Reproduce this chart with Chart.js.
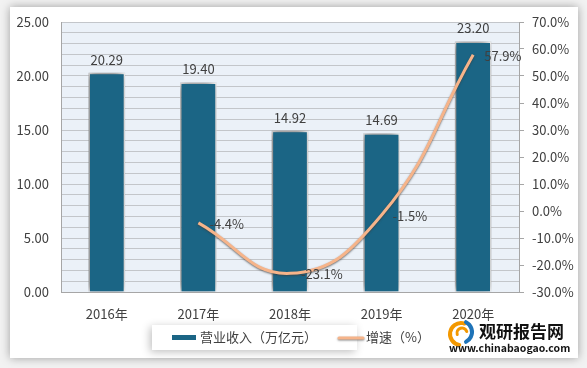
<!DOCTYPE html>
<html><head><meta charset="utf-8">
<script src="https://cdn.jsdelivr.net/npm/chart.js@4/dist/chart.umd.min.js"></script>
<style>html,body{margin:0;padding:0;background:#fff}#wrap{width:587px;height:368px}</style>
</head><body><div id="wrap"><canvas id="c" width="587" height="368"></canvas></div>
<script>
const categories = ['2016年','2017年','2018年','2019年','2020年'];
const revenue = [20.29, 19.40, 14.92, 14.69, 23.20];
const growth = [null, -4.4, -23.1, -1.5, 57.9];
const seriesNames = ['营业收入（万亿元）', '增速（%）'];
const leftRange = [0, 25];
const rightRange = [-30, 70];

const FONT = "'Noto Sans CJK SC', 'Noto Sans', sans-serif";
const BAR = '#1B6585';
const LINE = '#F6B48A';
const TXT = '#404040';
Chart.defaults.font.family = FONT;
Chart.defaults.font.size = 13;
Chart.defaults.color = TXT;

const framePlugin = {
  id: 'frame',
  beforeDraw(chart) {
    const ctx = chart.ctx, a = chart.chartArea;
    ctx.save();
    ctx.fillStyle = '#f2f2f2';
    ctx.fillRect(0, 0, chart.width, chart.height);
    ctx.shadowColor = 'rgba(0,0,0,0.35)';
    ctx.shadowBlur = 9;
    ctx.fillStyle = '#fff';
    ctx.fillRect(10, 7, 568, 351);
    ctx.shadowColor = 'transparent';
    ctx.fillStyle = '#EBF1F8';
    ctx.fillRect(a.left, a.top, a.right - a.left, a.bottom - a.top);
    ctx.shadowColor = 'rgba(0,0,0,0.25)';
    ctx.shadowBlur = 8;
    ctx.shadowOffsetX = -2;
    ctx.shadowOffsetY = 2;
    ctx.fillStyle = '#fff';
    ctx.fillRect(152, 325, 205, 25);
    ctx.restore();
  }
};

const shadowPlugin = {
  id: 'dsShadow',
  beforeDatasetDraw(chart, args) {
    const ctx = chart.ctx;
    ctx.save();
    if (args.index === 0) {
      ctx.shadowColor = 'rgba(0,0,0,0.65)';
      ctx.shadowBlur = 9;
      ctx.shadowOffsetX = -2;
      ctx.shadowOffsetY = -1;
    } else {
      ctx.shadowColor = 'rgba(60,60,60,0.7)';
      ctx.shadowBlur = 2;
      ctx.shadowOffsetX = 0;
      ctx.shadowOffsetY = 1;
    }
  },
  afterDatasetDraw(chart) { chart.ctx.restore(); }
};

const labelPlugin = {
  id: 'valLabels',
  afterDatasetsDraw(chart) {
    const ctx = chart.ctx;
    ctx.save();
    ctx.font = '13px ' + FONT;
    ctx.fillStyle = TXT;
    ctx.textAlign = 'center';
    ctx.textBaseline = 'alphabetic';
    chart.getDatasetMeta(0).data.forEach((el, i) => {
      ctx.fillText(revenue[i].toFixed(2), el.x, el.y - 8);
    });
    ctx.textAlign = 'left';
    ctx.textBaseline = 'middle';
    chart.getDatasetMeta(1).data.forEach((el, i) => {
      if (growth[i] === null) return;
      ctx.fillText(growth[i].toFixed(1) + '%', el.x + 11, el.y + 1);
    });
    ctx.restore();
  }
};

const legendPlugin = {
  id: 'legendLogo',
  afterDraw(chart) {
    const ctx = chart.ctx;
    ctx.save();
    ctx.font = '13px ' + FONT;
    ctx.textBaseline = 'middle';
    ctx.fillStyle = BAR;
    ctx.fillRect(172, 335, 24, 5);
    ctx.fillStyle = TXT;
    ctx.fillText(seriesNames[0], 200, 337);
    ctx.save();
    ctx.strokeStyle = LINE; ctx.lineWidth = 3; ctx.lineCap = 'round';
    ctx.shadowColor = 'rgba(60,60,60,0.6)'; ctx.shadowBlur = 2; ctx.shadowOffsetY = 1;
    ctx.beginPath(); ctx.moveTo(339, 338); ctx.lineTo(363, 338); ctx.stroke();
    ctx.restore();
    ctx.fillText(seriesNames[1], 366, 337);
    ctx.lineCap = 'round';
    ctx.lineWidth = 4;
    ctx.strokeStyle = '#F39800';
    ctx.beginPath(); ctx.arc(461, 334, 11, Math.PI * 0.55, Math.PI * 1.6); ctx.stroke();
    ctx.strokeStyle = '#1E73B8';
    ctx.beginPath(); ctx.arc(461, 332, 11, Math.PI * 1.65, Math.PI * 0.35); ctx.stroke();
    ctx.lineWidth = 3;
    ctx.strokeStyle = '#F39800';
    ctx.beginPath(); ctx.arc(462, 333, 5, Math.PI * 0.9, Math.PI * 1.9); ctx.stroke();
    ctx.fillStyle = '#111';
    ctx.font = 'bold 17px ' + FONT;
    ctx.fillText('观研报告网', 479, 332);
    ctx.font = 'bold 10.5px ' + FONT;
    ctx.fillText('www.chinabaogao.com', 449, 348);
    ctx.restore();
  }
};

new Chart(document.getElementById('c'), {
  type: 'bar',
  data: {
    labels: categories,
    datasets: [
      {
        type: 'bar', label: seriesNames[0], data: revenue, yAxisID: 'y',
        backgroundColor: BAR, borderColor: '#ffffff', borderWidth: 1.5,
        categoryPercentage: 0.8, barPercentage: 0.5, order: 1
      },
      {
        type: 'line', label: seriesNames[1], data: growth, yAxisID: 'y1',
        borderColor: LINE, borderWidth: 3, tension: 0.45, pointRadius: 0,
        spanGaps: false, order: 0, fill: false
      }
    ]
  },
  options: {
    responsive: false,
    animation: false,
    layout: { padding: { top: 22, bottom: 46, left: 0, right: 0 } },
    plugins: { legend: { display: false }, tooltip: { enabled: false } },
    scales: {
      x: {
        grid: { display: false },
        border: { display: true, color: '#A6A6A6' },
        ticks: { color: TXT, padding: 6, font: { size: 13 } },
        afterFit(s) { s.height = 30; }
      },
      y: {
        position: 'left', min: leftRange[0], max: leftRange[1],
        ticks: {
          stepSize: 1, autoSkip: false, padding: 12, color: TXT,
          callback: v => (v % 5 === 0 ? v.toFixed(2) : '')
        },
        grid: { color: '#C3C6CA', drawTicks: false, lineWidth: 1 },
        border: { display: true, color: '#A6A6A6' },
        afterFit(s) { s.width = 61; }
      },
      y1: {
        position: 'right', min: rightRange[0], max: rightRange[1],
        ticks: { stepSize: 10, padding: 8, color: TXT, callback: v => v.toFixed(1) + '%' },
        grid: { drawOnChartArea: false, tickLength: 5, color: '#A6A6A6' },
        border: { display: true, color: '#A6A6A6' },
        afterFit(s) { s.width = 68; }
      }
    }
  },
  plugins: [framePlugin, shadowPlugin, labelPlugin, legendPlugin]
});
</script></body></html>
